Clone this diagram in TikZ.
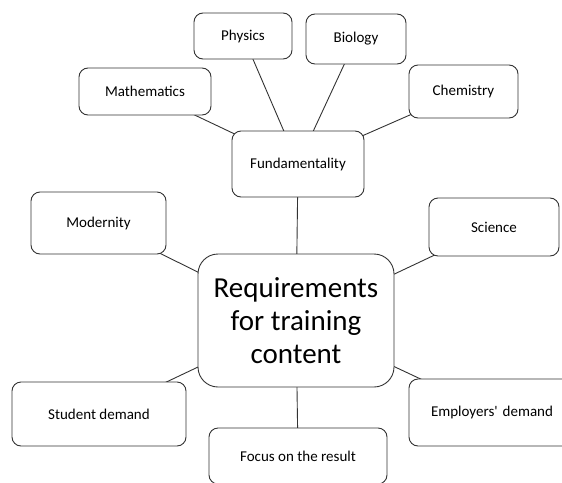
\documentclass[tikz,border=0pt]{standalone}
\usepackage{fontspec}
\setmainfont{Carlito}
\usetikzlibrary{backgrounds}
\begin{document}
\begin{tikzpicture}[x=1pt,y=-1pt,
  box/.style={draw=black!80, line width=0.9pt, rounded corners=9pt, fill=white,
    font=\fontsize{15}{18}\selectfont, inner sep=0pt, align=center},
  bigbox/.style={box, rounded corners=20pt, font=\fontsize{29}{33}\selectfont},
  link/.style={draw=black!80, line width=0.9pt}]
\useasboundingbox (0,0) rectangle (562,482);
\clip (0,0) rectangle (562,482);
\node[box, minimum width=98pt, minimum height=46pt] (phys) at (243,36) {Physics};
\node[box, minimum width=100pt, minimum height=50pt] (bio) at (356,39) {Biology};
\node[box, minimum width=132pt, minimum height=47pt] (math) at (145,91.5) {Mathematics};
\node[box, minimum width=109pt, minimum height=53pt] (chem) at (463.5,91.5) {Chemistry};
\node[box, minimum width=132pt, minimum height=66pt] (fund) at (298,164) {Fundamentality};
\node[box, minimum width=135pt, minimum height=62pt] (mod) at (98.5,223) {Modernity};
\node[box, minimum width=130pt, minimum height=58pt] (sci) at (494,227) {Science};
\node[bigbox, minimum width=196pt, minimum height=133pt] (req) at (296,320.5) {Requirements\\for training\\content};
\node[box, minimum width=174pt, minimum height=64pt] (stud) at (99,414) {Student demand};
\node[box, minimum width=178pt, minimum height=56pt] (focus) at (298,456) {Focus on the result};
\node[box, minimum width=166pt, minimum height=67pt, text width=166pt] (emp) at (492,412.5) {Employers\textquotesingle{} demand};
\begin{scope}[on background layer]
\draw[link] (math.center) -- (fund.center);
\draw[link] (phys.center) -- (fund.center);
\draw[link] (bio.center) -- (fund.center);
\draw[link] (chem.center) -- (fund.center);
\draw[link] (fund.center) -- (req.center);
\draw[link] (mod.center) -- (req.center);
\draw[link] (sci.center) -- (req.center);
\draw[link] (stud.center) -- (req.center);
\draw[link] (focus.center) -- (req.center);
\draw[link] (emp.center) -- (req.center);
\end{scope}
\end{tikzpicture}
\end{document}
